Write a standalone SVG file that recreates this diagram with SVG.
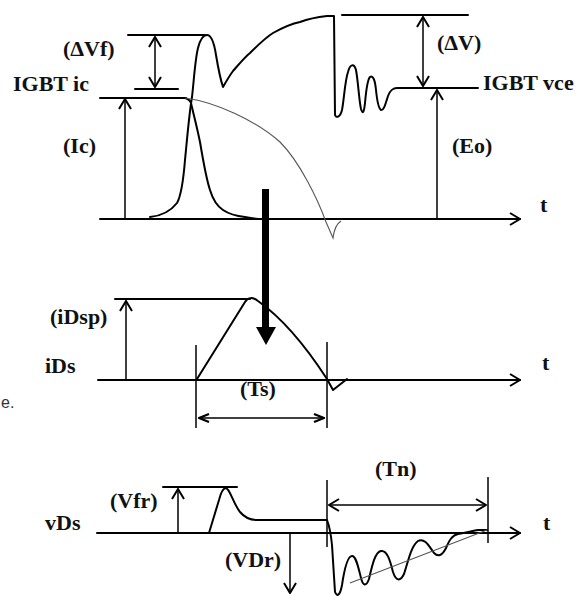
<svg xmlns="http://www.w3.org/2000/svg" width="582" height="596" viewBox="0 0 582 596">
<style>
.ln{fill:none;stroke:#000;stroke-width:2;stroke-linejoin:round;stroke-linecap:round}
.th{fill:none;stroke:#000;stroke-width:1.5}
.gr{fill:none;stroke:#555;stroke-width:1.1}
.lb{font-family:"Liberation Serif","Times New Roman","DejaVu Serif",serif;font-weight:bold;font-size:22px;fill:#111}
</style>
<defs>
<marker id="ah" viewBox="0 0 12 14" refX="11" refY="7" markerWidth="12" markerHeight="14" orient="auto-start-reverse" markerUnits="userSpaceOnUse">
<path d="M1,1 L11,7 L1,13" fill="none" stroke="#000" stroke-width="2"/>
</marker>
<marker id="ahs" viewBox="0 0 12 10" refX="11" refY="5" markerWidth="12" markerHeight="10" orient="auto-start-reverse" markerUnits="userSpaceOnUse">
<path d="M1,1 L11,5 L1,9" fill="none" stroke="#000" stroke-width="2.2"/>
</marker>
</defs>
<rect width="582" height="596" fill="#fff"/>

<g id="connectors">
<path class="ln" d="M100,219 H520" marker-end="url(#ah)"/>
<path class="ln" d="M128,35 H205"/>
<path class="th" d="M155,37 V87" marker-start="url(#ah)" marker-end="url(#ah)"/>
<path class="ln" d="M135,89 H178"/>
<path class="ln" d="M100,98 H186"/>
<path class="th" d="M125,219 V99" marker-end="url(#ah)"/>
<path class="ln" d="M342,15 H468"/>
<path class="th" d="M423,17 V86" marker-start="url(#ah)" marker-end="url(#ah)"/>
<path class="th" d="M437,219 V90" marker-end="url(#ah)"/>
<path class="ln" d="M98,380 H520" marker-end="url(#ah)"/>
<path class="ln" d="M115,299 H250"/>
<path class="th" d="M126,380 V301" marker-end="url(#ah)"/>
<path class="th" d="M196,345 V428"/>
<path class="th" d="M327,342 V428"/>
<path class="th" d="M199,418 H324" marker-start="url(#ahs)" marker-end="url(#ahs)"/>
<path class="ln" d="M97,533 H520" marker-end="url(#ah)"/>
<path class="ln" d="M163,487 H237"/>
<path class="th" d="M178,533 V489" marker-end="url(#ah)"/>
<path class="th" d="M327,480 V547"/>
<path class="th" d="M488,477 V543"/>
<path class="th" d="M329,505 H486" marker-start="url(#ah)" marker-end="url(#ah)"/>
<path class="th" d="M290,534 V593" marker-end="url(#ah)"/>
<rect x="262" y="189" width="7" height="140" fill="#000"/>
<polygon points="256,327 276,327 266,345" fill="#000"/>
</g>

<g id="igbt-vce">
<path class="ln" d="M150,217 C160,216 170,212 177,203 C181,196 183,185 185,160 C187,140 189,115 192,97 C194,80 195,60 198,48 C200,40 203,35 207,35 C211,35 214,42 216,55 C218,67 220,78 223,87 C227,80 230,75 233,71 C240,63 245,57 250,53 C258,45 265,38 273,33 C282,28 290,24 300,22 C308,19 318,17 327,16 L334,16 L335,115 C336,118 340,118 342,110 C344,100 345,80 348,72 C350,64 354,63 356,70 C358,80 359,100 361,109 C363,115 364,112 365,103 C366,92 367,80 370,77 C373,75 375,80 376,90 C377,100 378,108 381,110 C384,111 386,102 388,96 C390,91 392,88 397,88 H478"/>
</g>
<g id="igbt-ic">
<path class="ln" d="M185,98 C188,99 190,100 191,103 C193,112 197,127 200,142 C203,160 206,178 210,190 C213,200 217,206 223,210 C229,214 236,216 245,217 C250,218 256,219 262,219"/>
<path class="gr" d="M185,98 C215,102 255,120 280,142 C300,162 318,200 326,222 L333,238 C334,230 336,224 341,221"/>
</g>
<g id="ids">
<path class="ln" d="M197,379 L245,302 C248,297 253,297 258,301 Q292,325 327,379 L333,390 L347,379"/>
</g>
<g id="vds">
<path class="ln" d="M209,533 L219,500 C221,492 223,488 226,488 C230,489 233,503 240,512 C245,518 250,520 257,520 H327 C329,525 331,535 332,545 L335,592 C337,597 340,596 342,585 C345,565 348,556 352,556 C356,556 358,566 361,578 C363,586 366,587 369,579 C372,566 375,552 381,551 C387,550 390,560 393,572 C396,581 400,582 404,574 C408,562 411,546 418,541 C425,537 430,548 434,553 C438,557 442,556 446,548 C449,541 452,535 458,534 C466,533 472,531 478,530 L487,530"/>
<path class="gr" d="M350,583 L487,530"/>
</g>

<g id="labels">
<text class="lb" x="63" y="56">(ΔVf)</text>
<text class="lb" x="13" y="91">IGBT ic</text>
<text class="lb" x="63" y="153">(Ic)</text>
<text class="lb" x="437" y="50">(ΔV)</text>
<text class="lb" x="483" y="90">IGBT vce</text>
<text class="lb" x="452" y="153">(Eo)</text>
<text class="lb" x="540" y="212">t</text>
<text class="lb" x="50" y="324">(iDsp)</text>
<text class="lb" x="45" y="373">iDs</text>
<text class="lb" x="240" y="396">(Ts)</text>
<text class="lb" x="542" y="370">t</text>
<text class="lb" x="375" y="476">(Tn)</text>
<text class="lb" x="110" y="508">(Vfr)</text>
<text class="lb" x="45" y="530">vDs</text>
<text class="lb" x="543" y="530">t</text>
<text class="lb" x="225" y="567">(VDr)</text>
<text x="1" y="408" font-family="Liberation Sans, Arial, sans-serif" font-size="16" fill="#333">e.</text>
</g>
</svg>
